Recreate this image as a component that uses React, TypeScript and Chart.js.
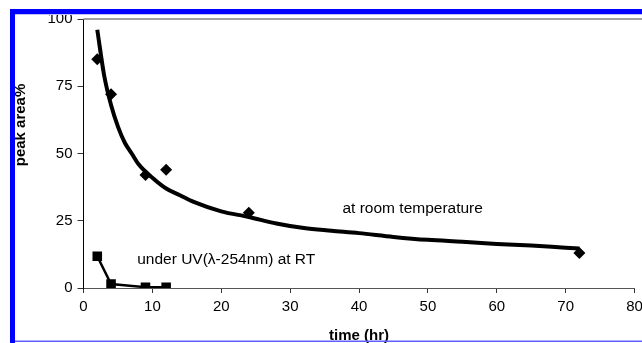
import React, { useEffect, useRef } from "react";
import { Chart, registerables } from "chart.js";

Chart.register(...registerables);

// Measured points, room temperature
const roomT = [2, 4, 9, 12, 24, 72];
const roomV = [85, 72, 42, 44, 28, 13];

// Measured points, under UV
const uvT = [2, 4, 9, 12];
const uvV = [11.8, 1.5, 0.3, 0.3];

// Trend line for room temperature
const trendT = [2, 3, 4, 5, 6, 7, 8, 10, 12, 14, 16, 20, 24, 28, 32, 36, 40, 45, 50, 55, 60, 65, 70, 72];
const trendV = [96, 79, 68, 60, 54, 50, 46, 41, 37, 34.5, 32, 28.5, 26.4, 24, 22.3, 21.3, 20.4, 19, 17.9, 17.2, 16.4, 15.8, 15, 14.7];

const xTicks = [0, 10, 20, 30, 40, 50, 60, 70, 80];
const yTicks = [0, 25, 50, 75, 100];

const xTitle = "time (hr)";
const yTitle = "peak area%";
const roomLabel = "at room temperature";
const uvLabel = "under UV(\u03bb-254nm) at RT";

const FONT = "'Liberation Sans', Arial, sans-serif";

const pts = (xs: number[], ys: number[]) => xs.map((x, i) => ({ x, y: ys[i] }));

export default function App() {
  const ref = useRef<HTMLCanvasElement | null>(null);

  useEffect(() => {
    if (!ref.current) return;
    const overlay = {
      id: "overlay",
      afterDraw(chart: any) {
        const ctx = chart.ctx;
        const xs = chart.scales.x;
        const ys = chart.scales.y;
        const area = chart.chartArea;
        ctx.save();
        // top plot border
        ctx.strokeStyle = "#a0a0a0";
        ctx.lineWidth = 2;
        ctx.beginPath();
        ctx.moveTo(area.left, area.top);
        ctx.lineTo(642, area.top);
        ctx.stroke();
        // annotations
        ctx.fillStyle = "#000";
        ctx.font = `15.5px ${FONT}`;
        ctx.textBaseline = "middle";
        ctx.textAlign = "left";
        ctx.fillText(roomLabel, xs.getPixelForValue(37.6), ys.getPixelForValue(29.6));
        ctx.fillText(uvLabel, xs.getPixelForValue(7.8), ys.getPixelForValue(10.4));
        // axis titles
        ctx.font = `bold 15px ${FONT}`;
        ctx.textAlign = "center";
        ctx.fillText(xTitle, (area.left + area.right) / 2, 336);
        ctx.save();
        ctx.translate(21, 125);
        ctx.rotate(-Math.PI / 2);
        ctx.fillText(yTitle, 0, 0);
        ctx.restore();
        // blue frame
        ctx.fillStyle = "#0000ff";
        ctx.fillRect(10, 9, 632, 5);
        ctx.fillRect(10, 9, 5, 334);
        ctx.fillStyle = "#c0c0ff";
        ctx.fillRect(15, 14, 627, 1);
        ctx.fillStyle = "#6060ff";
        ctx.fillRect(15, 340.5, 627, 1.5);
        ctx.fillStyle = "#ffffff";
        ctx.fillRect(0, 0, 642, 9);
        ctx.fillRect(0, 0, 10, 343);
        ctx.restore();
      },
    };

    const chart = new Chart(ref.current, {
      type: "scatter",
      data: {
        datasets: [
          {
            label: "trend",
            data: pts(trendT, trendV),
            showLine: true,
            borderColor: "#000",
            borderWidth: 4,
            pointRadius: 0,
            cubicInterpolationMode: "monotone",
          } as any,
          {
            label: "room",
            data: pts(roomT, roomV),
            showLine: false,
            pointStyle: "rectRot",
            pointRadius: 6,
            backgroundColor: "#000",
            borderColor: "#000",
            borderWidth: 0,
          },
          {
            label: "uv",
            data: pts(uvT, uvV),
            showLine: true,
            borderColor: "#000",
            borderWidth: 2.5,
            pointStyle: "rect",
            pointRadius: 5,
            backgroundColor: "#000",
            tension: 0,
          } as any,
        ],
      },
      options: {
        responsive: false,
        animation: false,
        devicePixelRatio: 1,
        layout: { padding: { left: 0, right: 2, top: 19, bottom: 0 } },
        plugins: { legend: { display: false }, tooltip: { enabled: false } },
        scales: {
          x: {
            type: "linear",
            min: 0,
            max: 80,
            afterBuildTicks: (s: any) => {
              s.ticks = xTicks.map((v) => ({ value: v }));
            },
            ticks: {
              color: "#000",
              font: { family: FONT, size: 15 },
              padding: 5,
              maxRotation: 0,
              autoSkip: false,
            },
            grid: { drawOnChartArea: false, tickLength: 5, color: "#333" },
            border: { color: "#555", width: 1 },
            afterFit: (s: any) => {
              s.height = 55;
              s.paddingLeft = 0;
              s.paddingRight = 0;
            },
          },
          y: {
            type: "linear",
            min: 0,
            max: 100,
            afterBuildTicks: (s: any) => {
              s.ticks = yTicks.map((v) => ({ value: v }));
            },
            ticks: {
              color: "#000",
              font: { family: FONT, size: 15 },
              padding: 5,
              autoSkip: false,
            },
            grid: { drawOnChartArea: false, tickLength: 6, color: "#333" },
            border: { color: "#000", width: 1 },
            afterFit: (s: any) => {
              s.width = 83.5;
              s.paddingTop = 0;
              s.paddingBottom = 0;
            },
          },
        },
      },
      plugins: [overlay],
    });
    return () => chart.destroy();
  }, []);

  return (
    <div style={{ position: "fixed", left: 0, top: 0, width: 642, height: 343, background: "#fff" }}>
      <canvas ref={ref} width={642} height={343} style={{ display: "block" }} />
    </div>
  );
}
